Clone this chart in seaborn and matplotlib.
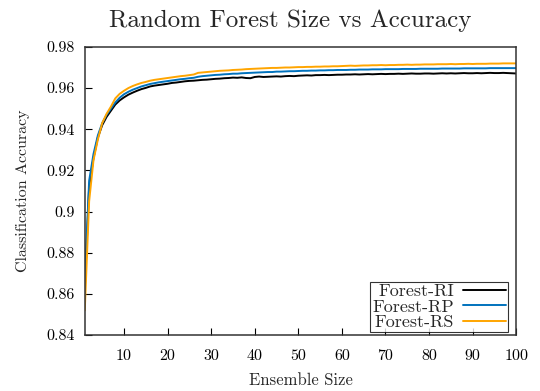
import matplotlib
matplotlib.use("Agg")
import matplotlib.pyplot as plt
import numpy as np
import pandas as pd
import seaborn as sns

# Размер ансамбля 1..100 и точность для трёх вариантов леса.
ensemble_size = list(range(1, 101))

acc_ri = [0.862, 0.912, 0.926, 0.936, 0.942, 0.946, 0.949, 0.952, 0.954, 0.9555,
          0.9568, 0.9578, 0.9587, 0.9595, 0.9601, 0.9608, 0.9612, 0.9615, 0.9618, 0.9621,
          0.9625, 0.9627, 0.9630, 0.9633, 0.9635, 0.9636, 0.9638, 0.9640, 0.9641, 0.9643,
          0.9645, 0.9646, 0.9648, 0.9649, 0.9651, 0.9650, 0.9652, 0.9649, 0.9648, 0.9654,
          0.9656, 0.9654, 0.9655, 0.9656, 0.9657, 0.9656, 0.9658, 0.9659, 0.9658, 0.9660,
          0.9661, 0.9662, 0.9661, 0.9663, 0.9663, 0.9664, 0.9663, 0.9664, 0.9665, 0.9665,
          0.9666, 0.9666, 0.9667, 0.9666, 0.9667, 0.9668, 0.9667, 0.9668, 0.9669, 0.9668,
          0.9669, 0.9669, 0.9670, 0.9669, 0.9670, 0.9671, 0.9670, 0.9670, 0.9671, 0.9671,
          0.9670, 0.9671, 0.9672, 0.9671, 0.9672, 0.9671, 0.9672, 0.9673, 0.9672, 0.9672,
          0.9673, 0.9672, 0.9673, 0.9674, 0.9673, 0.9673, 0.9674, 0.9673, 0.9672, 0.9671]

acc_rp = [0.866, 0.915, 0.928, 0.937, 0.943, 0.947, 0.950, 0.953, 0.9553, 0.9570,
          0.9582, 0.9592, 0.9600, 0.9608, 0.9614, 0.9620, 0.9624, 0.9628, 0.9631, 0.9634,
          0.9637, 0.9640, 0.9643, 0.9645, 0.9648, 0.9650, 0.9655, 0.9658, 0.9660, 0.9662,
          0.9664, 0.9665, 0.9667, 0.9668, 0.9670, 0.9670, 0.9672, 0.9673, 0.9674, 0.9675,
          0.9676, 0.9677, 0.9678, 0.9678, 0.9680, 0.9680, 0.9681, 0.9682, 0.9682, 0.9683,
          0.9684, 0.9684, 0.9685, 0.9685, 0.9686, 0.9686, 0.9687, 0.9687, 0.9688, 0.9688,
          0.9688, 0.9689, 0.9689, 0.9690, 0.9690, 0.9690, 0.9691, 0.9691, 0.9691, 0.9692,
          0.9692, 0.9692, 0.9692, 0.9693, 0.9693, 0.9693, 0.9693, 0.9694, 0.9694, 0.9694,
          0.9694, 0.9694, 0.9695, 0.9695, 0.9695, 0.9695, 0.9695, 0.9696, 0.9696, 0.9696,
          0.9696, 0.9696, 0.9696, 0.9697, 0.9697, 0.9697, 0.9697, 0.9697, 0.9697, 0.9697]

acc_rs = [0.852, 0.905, 0.925, 0.935, 0.943, 0.9475, 0.951, 0.955, 0.9572, 0.9587,
          0.9600, 0.9610, 0.9618, 0.9625, 0.9630, 0.9636, 0.9640, 0.9643, 0.9646, 0.9649,
          0.9652, 0.9655, 0.9658, 0.9660, 0.9663, 0.9666, 0.9674, 0.9676, 0.9678, 0.9680,
          0.9682, 0.9684, 0.9685, 0.9686, 0.9688, 0.9689, 0.9690, 0.9692, 0.9693, 0.9694,
          0.9695, 0.9696, 0.9697, 0.9698, 0.9698, 0.9699, 0.9700, 0.9700, 0.9701, 0.9702,
          0.9702, 0.9703, 0.9703, 0.9704, 0.9704, 0.9705, 0.9705, 0.9706, 0.9706, 0.9707,
          0.9708, 0.9709, 0.9708, 0.9709, 0.9710, 0.9710, 0.9711, 0.9711, 0.9712, 0.9711,
          0.9712, 0.9712, 0.9713, 0.9713, 0.9714, 0.9713, 0.9714, 0.9714, 0.9715, 0.9715,
          0.9715, 0.9716, 0.9716, 0.9716, 0.9717, 0.9716, 0.9717, 0.9717, 0.9718, 0.9717,
          0.9718, 0.9718, 0.9718, 0.9719, 0.9719, 0.9719, 0.9720, 0.9720, 0.9720, 0.9720]

series_names = ["Forest-RI", "Forest-RP", "Forest-RS"]
series_colors = ["#000000", "#0072bd", "#ffa500"]

x_ticks = [10, 20, 30, 40, 50, 60, 70, 80, 90, 100]
y_ticks = [0.84, 0.86, 0.88, 0.90, 0.92, 0.94, 0.96, 0.98]
y_tick_labels = ["0.84", "0.86", "0.88", "0.9", "0.92", "0.94", "0.96", "0.98"]

sns.set_style("ticks")
plt.rcParams["font.family"] = ["cmr10", "DejaVu Serif"]
plt.rcParams["axes.formatter.use_mathtext"] = True

frames = []
for name, values in zip(series_names, [acc_ri, acc_rp, acc_rs]):
    frames.append(pd.DataFrame({"size": ensemble_size, "acc": values, "forest": name}))
data = pd.concat(frames, ignore_index=True)

fig = plt.figure(figsize=(5.4, 3.91), dpi=100)
ax = fig.add_axes([0.157, 0.143, 0.799, 0.737])

sns.lineplot(data=data, x="size", y="acc", hue="forest", palette=series_colors,
             linewidth=1.4, ax=ax)

ax.set_xlim(1, 100)
ax.set_ylim(0.84, 0.98)
ax.set_xticks(x_ticks)
ax.set_xticklabels([str(t) for t in x_ticks])
ax.set_yticks(y_ticks)
ax.set_yticklabels(y_tick_labels)
ax.tick_params(direction="in", length=5, width=0.8, labelsize=11.5, colors="black")
ax.tick_params(axis="y", pad=7)
ax.tick_params(axis="x", pad=10)

for spine in ax.spines.values():
    spine.set_visible(True)
    spine.set_linewidth(1.1)
    spine.set_color("#333333")

ax.set_xlabel("Ensemble Size", fontsize=12, labelpad=7)
ax.set_ylabel("Classification Accuracy", fontsize=11.5, labelpad=12)
ax.set_title("Random Forest Size vs Accuracy", fontsize=18, pad=14, x=0.476)

leg = ax.legend(loc="lower right", bbox_to_anchor=(0.981, 0.010), markerfirst=False,
                fontsize=13, frameon=True, fancybox=False, handlelength=2.4,
                handletextpad=0.5, borderpad=0.1, labelspacing=0.0, borderaxespad=0.0)
leg.get_frame().set_edgecolor("black")
leg.get_frame().set_linewidth(0.8)
for t in leg.get_texts():
    t.set_ha("right")

fig.savefig("out.png", dpi=100)
